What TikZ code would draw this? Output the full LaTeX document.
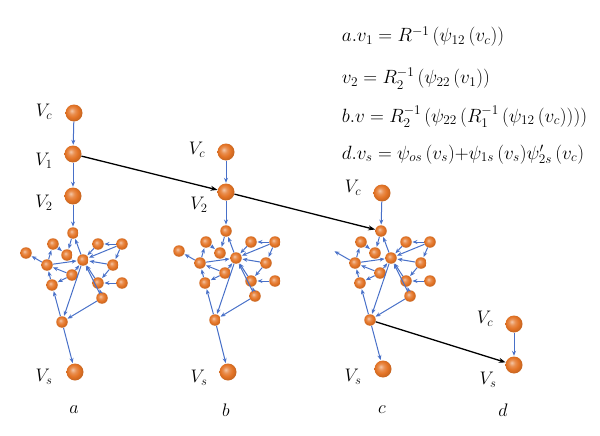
\documentclass[tikz,border=0pt]{standalone}
\usepackage{amsmath,amssymb}
\usepackage{xcolor}
\usepackage{tikz}
\usetikzlibrary{positioning,calc,arrows.meta}

\definecolor{nodeorange}{RGB}{228,116,38}
\definecolor{edgeblue}{RGB}{72,112,200}
\pgfdeclareradialshading{nodeball}{\pgfpoint{-7bp}{7bp}}{color(0bp)=(nodeorange!40!white); color(9bp)=(nodeorange!80!white); color(18bp)=(nodeorange); color(26bp)=(nodeorange!88!black); color(50bp)=(nodeorange!70!black)}
\tikzset{
    big/.style={circle, shading=nodeball, minimum size=17pt, inner sep=0pt},
    small/.style={circle, shading=nodeball, minimum size=11.5pt, inner sep=0pt},
    blue edge/.style={-{Stealth[length=5pt,width=4pt]}, edgeblue, line width=1pt, shorten >=0.5pt},
    black edge/.style={-{Stealth[length=7pt,width=5pt]}, black, line width=1.3pt},
    lbl/.style={font=\fontsize{17.28}{20}\selectfont, scale=1.05},
    eqn/.style={anchor=base west, font=\fontsize{17.28}{20}\selectfont, scale=1.11}
}

\begin{document}
\begin{tikzpicture}[x=1pt, y=-1pt]
    \useasboundingbox (0,0) rectangle (600,436);

    % the three networks
    \foreach \g/\dx/\dy/\leaf in {a/0/0/small, b/153/-2/small, c/308/-2/coordinate} {
        \begin{scope}[shift={(\dx,\dy)}]
            \foreach \n/\x/\y in {T/73/233, n1/53/244, n2/67/255, C/83/260, n3/98/244, n4/122/244,
                                  n6/47/265, n7/113/265, n8/72/275, n9/52/285, n10/98/283,
                                  n11/122/283, n12/102/298, n13/62/322}
                \node[small] (\g\n) at (\x,\y) {};
            \node[\leaf] (\g n5) at (26,253) {};
            \foreach \s/\t in {T/n2, C/T, n1/n2, n6/n1, n6/n5, n6/C, n8/C, n8/n6, n8/n9, n9/n6,
                               n13/n9, C/n13, n12/n13, n12/C, n10/C, n12/n10, n11/n10,
                               n7/n10, n7/C, n4/n3, n4/C, n4/n7, n3/C}
                \draw[blue edge] (\g\s) -- (\g\t);
        \end{scope}
    }

    \node[big] (aVc) at (74,113) {};
    \node[big] (aV1) at (73,154) {};
    \node[big] (aV2) at (73,196) {};
    \node[big] (aVs) at (75,372) {};
    \node[big] (bVc) at (226,152) {};
    \node[big] (bV2) at (226,192) {};
    \node[big] (bVs) at (228,372) {};
    \node[big] (cVc) at (382,193) {};
    \node[big] (cVs) at (383,369) {};
    \node[big] (dVc) at (514,324) {};
    \node[big] (dVs) at (514,365) {};

    \foreach \s/\t in {aVc/aV1, aV1/aV2, aV2/aT, an13/aVs, bVc/bV2, bV2/bT, bn13/bVs,
                       cVc/cT, cn13/cVs, dVc/dVs}
        \draw[blue edge] (\s) -- (\t);
    \foreach \s/\t in {aV1/bV2, bV2/cT, cn13/dVs}
        \draw[black edge] (\s) -- (\t);

    % labels
    \foreach \n/\x/\y/\txt in {laVc/44/112/V_c, laV1/44/161/V_1, laV2/44/203/V_2, laVs/44/377/V_s,
                               lbVc/197/150/V_c, lbV2/199/205/V_2, lbVs/199/378/V_s,
                               lcVc/353/188/V_c, lcVs/353/377/V_s,
                               ldVc/485/319/V_c, ldVs/488/380/V_s,
                               la/74/410/a, lb/226/410/b, lc/382/410/c, ld/503/410/d}
        \node[lbl] (\n) at (\x,\y) {$\txt$};

    \node[eqn] (eq1) at (338,42) {$a.v_1 = R^{-1}\,(\psi_{12}\,(v_c))$};
    \node[eqn] (eq2) at (338,84) {$v_2 = R_2^{-1}\,(\psi_{22}\,(v_1))$};
    \node[eqn] (eq3) at (338,122) {$b.v = R_2^{-1}\,(\psi_{22}\,(R_1^{-1}\,(\psi_{12}\,(v_c))))$};
    \node[eqn] (eq4) at (338,159) {$d.v_s = \psi_{os}\,(v_s){+}\psi_{1s}\,(v_s)\psi'_{2s}\,(v_c)$};
\end{tikzpicture}
\end{document}
